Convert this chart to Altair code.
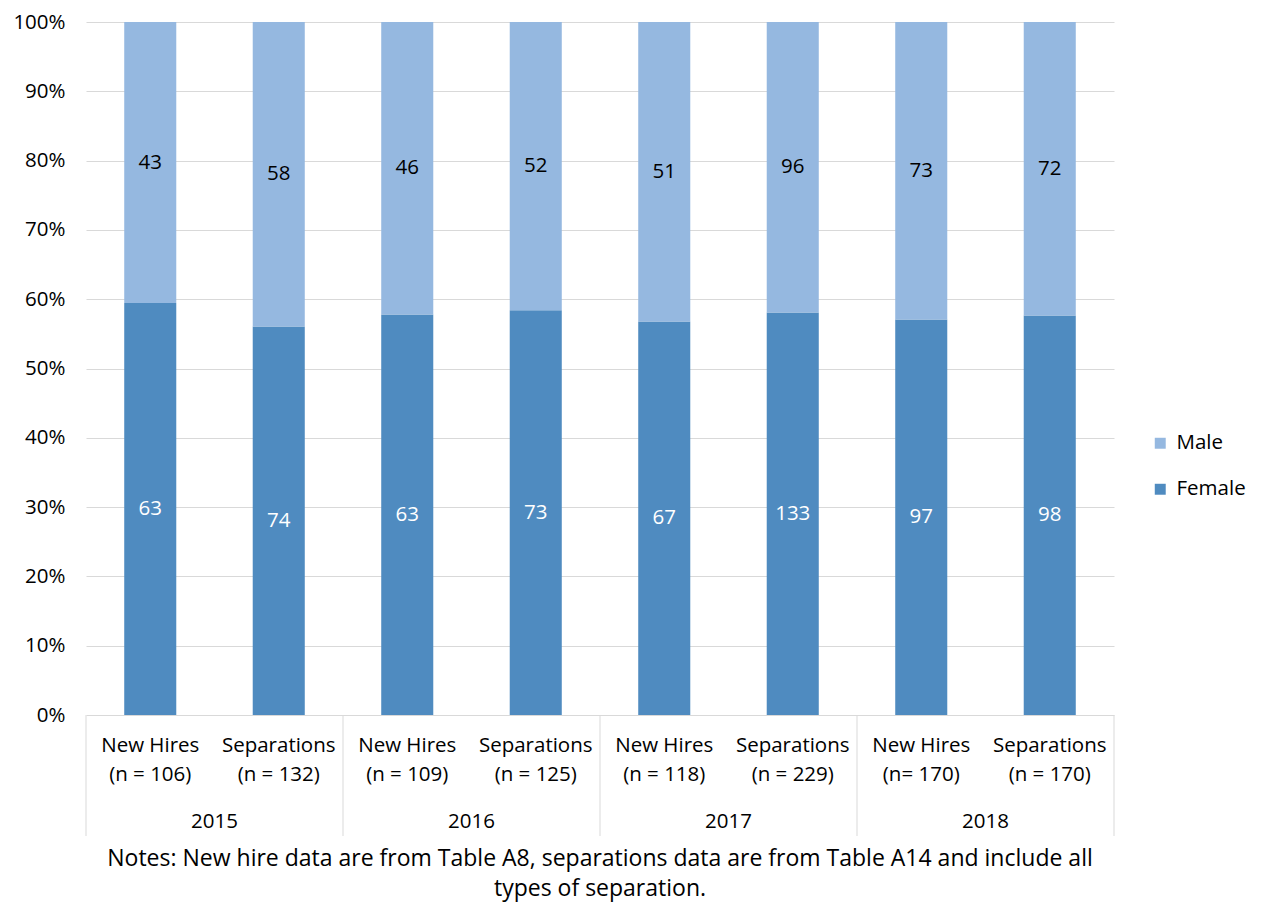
import altair as alt
import pandas as pd

# ---- data ----
years = ["2015", "2015", "2016", "2016", "2017", "2017", "2018", "2018"]
categories = ["New Hires", "Separations", "New Hires", "Separations",
              "New Hires", "Separations", "New Hires", "Separations"]
n_labels = ["(n = 106)", "(n = 132)", "(n = 109)", "(n = 125)",
            "(n = 118)", "(n = 229)", "(n= 170)", "(n = 170)"]
female = [63, 74, 63, 73, 67, 133, 97, 98]
male = [43, 58, 46, 52, 51, 96, 73, 72]
series = ["Male", "Female"]
colors = ["#95B8E0", "#4F8BC0"]
notes = ["Notes: New hire data are from Table A8, separations data are from Table A14 and include all",
         "types of separation."]
y_ticks = [0, 0.1, 0.2, 0.3, 0.4, 0.5, 0.6, 0.7, 0.8, 0.9, 1.0]

FONT = "Open Sans"
FS = 20.5
GRID = "#D9D9D9"
W, H = 1028, 693

slots = [f"{y} {c}" for y, c in zip(years, categories)]
rows = []
for i, s in enumerate(slots):
    rows.append(dict(slot=s, gender="Female", count=female[i], order=0))
    rows.append(dict(slot=s, gender="Male", count=male[i], order=1))
df = pd.DataFrame(rows)
cat_df = pd.DataFrame({"slot": slots,
                       "label": [c + "\n" + n for c, n in zip(categories, n_labels)]})
year_list = list(dict.fromkeys(years))
year_df = pd.DataFrame({"year": year_list})
last_year_df = pd.DataFrame({"year": year_list[-1:]})

slot_scale = alt.Scale(domain=slots, paddingInner=0.595, paddingOuter=0.2975)
year_scale = alt.Scale(domain=year_list, paddingInner=0, paddingOuter=0)
x_slot = alt.X("slot:N", scale=slot_scale, axis=None)

base = alt.Chart(df).transform_stack(
    stack="count", groupby=["slot"], as_=["y0", "y1"], offset="normalize",
    sort=[alt.SortField("order", order="ascending")]
).transform_calculate(mid="(datum.y0 + datum.y1) / 2")

bars = base.mark_bar().encode(
    x=x_slot,
    y=alt.Y("y0:Q", scale=alt.Scale(domain=[0, 1]),
            axis=alt.Axis(values=y_ticks, format=".0%", domain=False, ticks=False,
                          gridColor=GRID, gridWidth=1, labelFontSize=FS, labelFont=FONT,
                          labelColor="black", labelPadding=21, title=None)),
    y2="y1:Q",
    color=alt.Color("gender:N", scale=alt.Scale(domain=series, range=colors),
                    legend=alt.Legend(title=None, orient="none", legendX=1064, legendY=411,
                                      symbolType="square", symbolSize=120,
                                      symbolStrokeWidth=0, labelFontSize=FS,
                                      labelFont=FONT, labelColor="black",
                                      rowPadding=25, labelOffset=6)),
)

seg_text = base.mark_text(fontSize=FS, font=FONT).encode(
    x=x_slot,
    y=alt.Y("mid:Q"),
    text="count:Q",
    color=alt.condition(alt.datum.gender == "Female", alt.value("white"), alt.value("black")),
)

cat_text = alt.Chart(cat_df).mark_text(
    fontSize=FS, font=FONT, lineBreak="\n", baseline="top", lineHeight=29, color="black"
).encode(x=x_slot, y=alt.value(H + 21), text="label:N")

year_text = alt.Chart(year_df).mark_text(
    fontSize=FS, font=FONT, baseline="middle", color="black"
).encode(x=alt.X("year:N", scale=year_scale, axis=None), y=alt.value(H + 107), text="year:N")

sep_rules = alt.Chart(year_df).mark_rule(color=GRID, strokeWidth=1).encode(
    x=alt.X("year:N", scale=year_scale, axis=None, bandPosition=0),
    y=alt.value(H), y2=alt.value(H + 121))

end_rule = alt.Chart(last_year_df).mark_rule(color=GRID, strokeWidth=1).encode(
    x=alt.X("year:N", scale=year_scale, axis=None, bandPosition=1),
    y=alt.value(H), y2=alt.value(H + 121))

chart = alt.layer(bars, seg_text, cat_text, year_text, sep_rules, end_rule).resolve_scale(
    x="independent"
).properties(
    width=W, height=H,
    autosize=alt.AutoSizeParams(type="none"),
    padding={"left": 78, "top": 14, "right": 147, "bottom": 189},
    title=alt.TitleParams(text=notes, orient="bottom", anchor="middle", frame="group",
                          fontSize=23, font=FONT, fontWeight="normal", lineHeight=30,
                          offset=11, color="black"),
).configure_view(stroke=None)

chart.save("out.html", embed_options={"renderer": "svg", "actions": False})
